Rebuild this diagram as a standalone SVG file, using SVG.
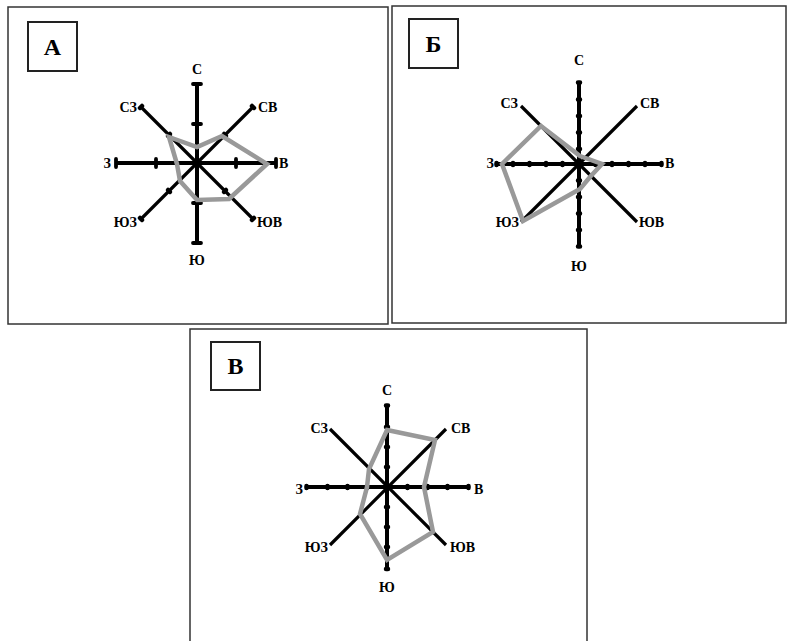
<svg xmlns="http://www.w3.org/2000/svg" width="789" height="641" viewBox="0 0 789 641">
<style>
.frame{fill:#fff;stroke:#333;stroke-width:1.5}
.lbox{fill:#fff;stroke:#222;stroke-width:2}
.big{font-family:"Liberation Serif","Times New Roman",serif;font-weight:bold;font-size:24px;fill:#000;text-anchor:middle}
.dir{font-family:"Liberation Serif","Times New Roman",serif;font-weight:bold;font-size:14px;fill:#000}
.mid{text-anchor:middle}
.end{text-anchor:end}
.ax{stroke:#000;stroke-width:4;fill:none;stroke-linecap:butt}
.dg{stroke:#000;stroke-width:3.2;fill:none}
.tk{stroke:#000;stroke-width:3.8;stroke-linecap:round;fill:none}
.dot{stroke:#000;stroke-width:4.5;stroke-linecap:round;fill:none}
.rose{stroke:#999;stroke-width:4.5;fill:none;stroke-linejoin:miter}
</style>
<rect width="789" height="641" fill="#fff"/>

<g id="panelA">
<rect class="frame" x="8" y="7" width="380" height="317"/>
<rect class="lbox" x="28" y="22" width="49" height="49"/>
<text class="big" x="52.5" y="55">А</text>
<g id="axesA">
<line class="dg" x1="141" y1="107" x2="253" y2="219"/>
<line class="dg" x1="253" y1="107" x2="141" y2="219"/>
<line class="ax" x1="197" y1="84" x2="197" y2="243"/>
<line class="ax" x1="116" y1="163" x2="276" y2="163"/>
<path class="tk" d="M193 84H201M193 124H201M193 203H201M193 243H201M116 159V167M156 159V167M236 159V167M276 159V167"/>
<path class="dot" d="M168 136L170 134M224 134L226 136M224 192L226 190M168 190L170 192" stroke-width="4"/>
<path class="dot" d="M140 108L142 106M252 106L254 108M252 220L254 218M140 218L142 220" stroke-width="3.5"/>
</g>
<polygon class="rose" points="169,137 197,147 222,136 267,164 229,199 197,200 180,181 177,164"/>
<text class="dir mid" x="197" y="74">С</text>
<text class="dir" x="258" y="112">СВ</text>
<text class="dir" x="279" y="168">В</text>
<text class="dir" x="257" y="227">ЮВ</text>
<text class="dir mid" x="197" y="265">Ю</text>
<text class="dir end" x="137" y="227">ЮЗ</text>
<text class="dir end" x="111" y="168">З</text>
<text class="dir end" x="137" y="112">СЗ</text>
</g>

<g id="panelB">
<rect class="frame" x="392" y="6" width="394" height="317"/>
<rect class="lbox" x="409" y="19" width="49" height="49"/>
<text class="big" x="433.5" y="52">Б</text>
<g id="axesB">
<line class="dg" x1="521" y1="106" x2="637" y2="222"/>
<line class="dg" x1="637" y1="106" x2="521" y2="222"/>
<line class="ax" x1="579" y1="82" x2="579" y2="247"/>
<line class="ax" x1="496" y1="164" x2="662" y2="164"/>
<path class="dot" d="M578 82.5H580M578 99.5H580M578 116H580M578 132.5H580M578 149H580M578 180.5H580M578 197H580M578 213.5H580M578 230H580M578 246.5H580"/>
<path class="dot" d="M496.5 163V165M513 163V165M529.5 163V165M546 163V165M562.5 163V165M595.5 163V165M612 163V165M628.5 163V165M645 163V165M661.5 163V165"/>
</g>
<polygon class="rose" points="541,126 580,156 602,164 590,177 580,189 523,221 502,164"/>
<text class="dir mid" x="579" y="65">С</text>
<text class="dir" x="640" y="108">СВ</text>
<text class="dir" x="665" y="168">В</text>
<text class="dir" x="639" y="227">ЮВ</text>
<text class="dir mid" x="579" y="271">Ю</text>
<text class="dir end" x="519" y="227">ЮЗ</text>
<text class="dir end" x="494" y="168">З</text>
<text class="dir end" x="518" y="108">СЗ</text>
</g>

<g id="panelV">
<rect class="frame" x="190" y="329" width="397" height="330"/>
<rect class="lbox" x="211" y="342" width="49" height="48"/>
<text class="big" x="235.5" y="374">В</text>
<g id="axesV">
<line class="dg" x1="330" y1="429" x2="446" y2="545"/>
<line class="dg" x1="446" y1="429" x2="330" y2="545"/>
<line class="ax" x1="387" y1="405" x2="387" y2="570"/>
<line class="ax" x1="306" y1="487" x2="469" y2="487"/>
<path class="dot" d="M386 405.5H388M386 427H388M386 447H388M386 467H388M386 507H388M386 527H388M386 547H388M386 569H388"/>
<path class="dot" d="M306.5 486V488M327.5 486V488M347.5 486V488M367 486V488M407.5 486V488M427.5 486V488M447.5 486V488M468.5 486V488"/>
</g>
<polygon class="rose" points="387,430 435,440 424,487 433,532 387,560 360,514 367,487 369,469"/>
<text class="dir mid" x="387" y="395">С</text>
<text class="dir" x="451" y="433">СВ</text>
<text class="dir" x="474" y="494">В</text>
<text class="dir" x="450" y="552">ЮВ</text>
<text class="dir mid" x="387" y="592">Ю</text>
<text class="dir end" x="328" y="552">ЮЗ</text>
<text class="dir end" x="303" y="494">З</text>
<text class="dir end" x="328" y="433">СЗ</text>
</g>
</svg>
